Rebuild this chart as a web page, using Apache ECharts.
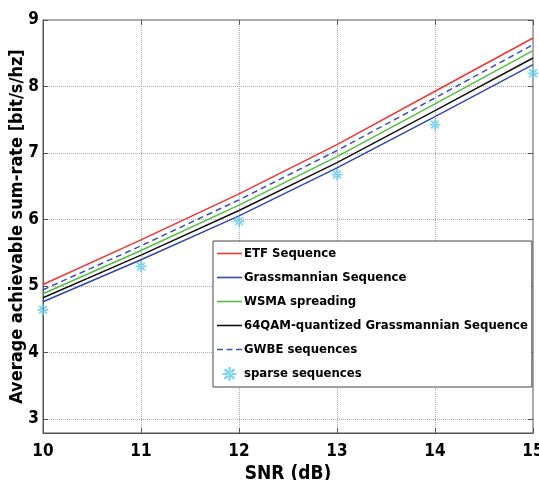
<!DOCTYPE html>
<html><head><meta charset="utf-8">
<script src="https://cdn.jsdelivr.net/npm/echarts@6/dist/echarts.min.js"></script>
<style>html,body{margin:0;padding:0;background:#fff}#c{width:539px;height:480px}</style>
</head><body><div id="c"></div>
<script>
const snr = [10, 11, 12, 13, 14, 15];
const etf = [5.03, 5.70, 6.39, 7.13, 7.93, 8.73];
const gwbe = [4.95, 5.61, 6.30, 7.04, 7.83, 8.63];
const wsma = [4.89, 5.54, 6.22, 6.95, 7.74, 8.54];
const qam = [4.83, 5.47, 6.14, 6.86, 7.64, 8.43];
const grass = [4.77, 5.40, 6.06, 6.78, 7.55, 8.33];
const sparse = [4.65, 5.30, 5.98, 6.68, 7.43, 8.20];
const names = ['ETF Sequence','Grassmannian Sequence','WSMA spreading','64QAM-quantized Grassmannian Sequence','GWBE sequences','sparse sequences'];

const FONT = "'Liberation Sans Narrow','DejaVu Sans Condensed','Liberation Sans',sans-serif";
const star = 'path://M-5,-0.8L5,-0.8L5,0.8L-5,0.8Z M-0.8,-5L0.8,-5L0.8,5L-0.8,5Z M-2.93,-4.07L4.07,2.93L2.93,4.07L-4.07,-2.93Z M-2.93,4.07L4.07,-2.93L2.93,-4.07L-4.07,2.93Z';
const solidIcon = 'path://M0,0H25V1.6H0Z';
const dashIcon = 'path://M0,0H6V1.6H0Z M9.5,0H15.5V1.6H9.5Z M19,0H25V1.6H19Z';
const pair = a => snr.map((x,i)=>[x,a[i]]);
function line(name, data, color, type){
  return {name, type:'line', xAxisIndex:0, yAxisIndex:0, data:pair(data), symbol:'none', showSymbol:false,
    lineStyle:{color, width:1.5, type:type||'solid'}, itemStyle:{color}, z:3};
}
const axisFont = {fontFamily:FONT, fontWeight:'bold', fontSize:17, color:'#000'};
const tickStyle = {show:true, inside:true, length:5, lineStyle:{color:'#555'}};
const chart = echarts.init(document.getElementById('c'));
chart.setOption({
  animation:false,
  grid:[
    {left:43, right:6, top:20, bottom:47, show:true, borderColor:'#555', borderWidth:1, outerBoundsMode:'none', containLabel:false},
    {left:43, right:6, top:20, bottom:61, show:false, outerBoundsMode:'none', containLabel:false}
  ],
  xAxis:[
    {type:'value', gridIndex:0, min:10, max:15, interval:1,
    name:'SNR (dB)', nameLocation:'middle', nameGap:25,
    nameTextStyle:{fontFamily:FONT, fontWeight:'bold', fontSize:19, color:'#000'},
    axisLine:{show:true, lineStyle:{color:'#555'}},
    axisTick:tickStyle,
    axisLabel:Object.assign({margin:10}, axisFont),
    splitLine:{show:true, lineStyle:{color:'#aaa', type:'dotted', width:1}}},
    {type:'value', gridIndex:1, min:10, max:15, show:false},
    {type:'value', gridIndex:0, position:'top', min:10, max:15, interval:1,
    axisLine:{show:false}, axisTick:tickStyle, axisLabel:{show:false}, splitLine:{show:false}}
  ],
  yAxis:[
    {type:'value', gridIndex:0, min:2.8, max:9,
    name:'Average achievable sum-rate [bit/s/hz]', nameLocation:'middle', nameGap:17,
    nameTextStyle:{fontFamily:FONT, fontWeight:'bold', fontSize:18, color:'#000'},
    axisLine:{show:true, lineStyle:{color:'#555'}},
    axisTick:{show:false}, axisLabel:{show:false}, splitLine:{show:false}},
    {type:'value', gridIndex:1, min:3, max:9, interval:1,
    axisLine:{show:false},
    axisTick:tickStyle,
    axisLabel:Object.assign({margin:4}, axisFont),
    splitLine:{show:true, lineStyle:{color:'#aaa', type:'dotted', width:1}}},
    {type:'value', gridIndex:1, position:'right', min:3, max:9, interval:1,
    axisLine:{show:false}, axisTick:tickStyle, axisLabel:{show:false}, splitLine:{show:false}}
  ],
  legend:{orient:'vertical', left:213, top:241, itemWidth:25, itemHeight:14, itemGap:11,
    backgroundColor:'#fff', borderColor:'#444', borderWidth:1, padding:[6,4,6,4],
    textStyle:{fontFamily:FONT, fontWeight:'bold', fontSize:13, color:'#000', padding:[0,0,0,-3]},
    data:[
      {name:names[0], icon:solidIcon},{name:names[1], icon:solidIcon},{name:names[2], icon:solidIcon},
      {name:names[3], icon:solidIcon},{name:names[4], icon:dashIcon},{name:names[5], icon:star}
    ]},
  series:[
    line(names[0], etf, '#f03535'),
    line(names[1], grass, '#3446b0'),
    line(names[2], wsma, '#55bd40'),
    line(names[3], qam, '#111111'),
    line(names[4], gwbe, '#3d4fb8', [6,4]),
    {name:names[5], type:'scatter', xAxisIndex:0, yAxisIndex:0, data:pair(sparse), symbol:star, symbolSize:11,
      itemStyle:{color:'#5cc8e8'}, z:4}
  ]
});
</script></body></html>
